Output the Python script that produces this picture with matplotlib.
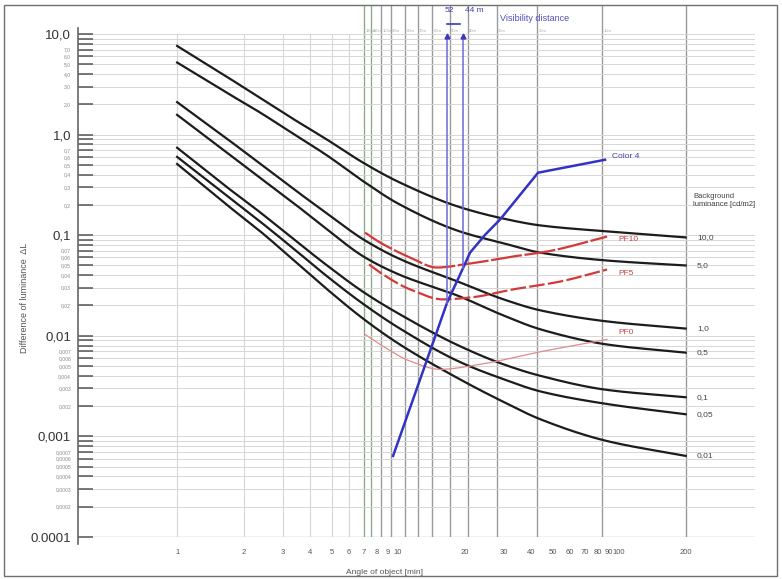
import numpy as np
import matplotlib
matplotlib.use("Agg")
import matplotlib.pyplot as plt
from matplotlib.ticker import FixedLocator, FixedFormatter, NullFormatter
from matplotlib.patches import Rectangle

plt.rcParams['font.family'] = ['Liberation Sans', 'DejaVu Sans']

# ---------------- data ----------------
angles = [1, 1.68, 2.38, 3.35, 4.77, 7.0, 10, 19, 30, 44, 88, 200]
bg_labels = ['10,0', '5,0', '1,0', '0,5', '0,1', '0,05', '0,01']
curve_10 = [7.6, 3.75, 2.3, 1.43, 0.89, 0.52, 0.34, 0.19, 0.146, 0.125, 0.109, 0.095]
curve_5 = [5.2, 2.6, 1.65, 1.02, 0.62, 0.34, 0.206, 0.109, 0.083, 0.067, 0.056, 0.050]
curve_1 = [2.1, 0.91, 0.51, 0.29, 0.164, 0.09, 0.059, 0.034, 0.023, 0.0179, 0.0139, 0.0118]
curve_05 = [1.57, 0.66, 0.37, 0.21, 0.114, 0.061, 0.041, 0.0246, 0.0159, 0.0116, 0.0082, 0.0068]
curve_01 = [0.74, 0.30, 0.168, 0.092, 0.050, 0.027, 0.0167, 0.0079, 0.0052, 0.0040, 0.0029, 0.00245]
curve_005 = [0.60, 0.247, 0.136, 0.074, 0.039, 0.0205, 0.0121, 0.0055, 0.0037, 0.0028, 0.0021, 0.00166]
curve_001 = [0.51, 0.20, 0.109, 0.057, 0.029, 0.0146, 0.0084, 0.0037, 0.0022, 0.00148, 0.0009, 0.00064]

pf10_x = [7.09, 8.29, 11.33, 15.0, 19.7, 33.1, 47.2, 88.2]
pf10_y = [0.106, 0.0845, 0.060, 0.0477, 0.051, 0.0614, 0.0688, 0.0968]
pf5_x = [7.39, 8.29, 11.33, 15.98, 21.17, 33.1, 54.1, 88.2]
pf5_y = [0.0511, 0.0425, 0.0289, 0.023, 0.024, 0.0289, 0.0346, 0.0456]
pf0_x = [7.09, 8.29, 11.33, 15.5, 23.5, 42.6, 88.2]
pf0_y = [0.0103, 0.0082, 0.0056, 0.00464, 0.0052, 0.00684, 0.0092]

color4_x = [9.49, 12.58, 16.66, 19.08, 21.17, 24.8, 28.9, 43.0, 86.4]
color4_y = [0.00064, 0.0037, 0.0214, 0.0407, 0.0672, 0.1014, 0.1428, 0.418, 0.562]

vis_dist = ['120m', '110m', '100m', '90m', '80m', '70m', '60m', '50m', '40m', '30m', '20m', '10m']
vis_angle = [7.02, 7.55, 8.38, 9.29, 10.77, 12.3, 14.3, 17.2, 20.7, 28.0, 42.6, 83.9]
arrow_angle = [16.6, 19.6]
arrow_text = ['52', '44 m']

xtick_vals = [1, 2, 3, 4, 5, 6, 7, 8, 9, 10, 20, 30, 40, 50, 60, 70, 80, 90, 100, 200]
ymajor_vals = [1e-4, 1e-3, 1e-2, 1e-1, 1, 10]
ymajor_lbls = ['0.0001', '0,001', '0,01', '0,1', '1,0', '10,0']
minor_mult = [2, 3, 4, 5, 6, 7, 8, 9]


def pchip(x, y, xn):
    x = np.asarray(x, float); y = np.asarray(y, float)
    h = np.diff(x); d = np.diff(y) / h
    m = np.zeros_like(y)
    m[0] = d[0]; m[-1] = d[-1]
    for k in range(1, len(x) - 1):
        if d[k - 1] * d[k] > 0:
            w1 = 2 * h[k] + h[k - 1]; w2 = h[k] + 2 * h[k - 1]
            m[k] = (w1 + w2) / (w1 / d[k - 1] + w2 / d[k])
    idx = np.clip(np.searchsorted(x, xn) - 1, 0, len(x) - 2)
    t = (xn - x[idx]) / h[idx]
    h00 = 2 * t**3 - 3 * t**2 + 1; h10 = t**3 - 2 * t**2 + t
    h01 = -2 * t**3 + 3 * t**2; h11 = t**3 - t**2
    return h00 * y[idx] + h10 * h[idx] * m[idx] + h01 * y[idx + 1] + h11 * h[idx] * m[idx + 1]


def smooth(xs, ys, n=300):
    lx = np.log10(xs); ly = np.log10(ys)
    xn = np.linspace(lx[0], lx[-1], n)
    return 10**xn, 10**pchip(lx, ly, xn)


W, H = 782, 579
fig = plt.figure(figsize=(W / 100, H / 100), dpi=100)
ax = fig.add_axes([78 / W, 1 - 537 / H, (755 - 78) / W, (537 - 5) / H])
ax.set_xscale('log'); ax.set_yscale('log')
ax.set_xlim(0.356, 412); ax.set_ylim(1e-4, 19.4)

# frame around the figure
fig.patches.append(Rectangle((4 / W, 3 / H), (777 - 4) / W, (574 - 3) / H, transform=fig.transFigure,
                             fill=False, edgecolor='#707070', lw=1.0))

for s in ['top', 'right', 'bottom']:
    ax.spines[s].set_visible(False)
ax.spines['left'].set_color('#666666')
ax.spines['left'].set_linewidth(1.2)
ax.spines['left'].set_bounds(8.5e-5, 11.5)

# horizontal grid
ax.yaxis.set_major_locator(FixedLocator(ymajor_vals))
ax.yaxis.set_major_formatter(FixedFormatter(ymajor_lbls))
ymin_vals, ymin_lbls = [], []
for e in range(-4, 1):
    for m in minor_mult:
        v = m * 10.0**e
        ymin_vals.append(v)
        if m <= 7:
            if e >= 0:
                ymin_lbls.append(f'{m},0')
            else:
                ymin_lbls.append(('0,' + '0' * (-e - 1) + str(m)))
        else:
            ymin_lbls.append('')
ax.yaxis.set_minor_locator(FixedLocator(ymin_vals))
ax.yaxis.set_minor_formatter(FixedFormatter(ymin_lbls))
ax.grid(axis='y', which='both', color='#d6d6d6', lw=0.7, zorder=0)
ax.tick_params(axis='y', which='both', direction='in', length=10.5, width=1.1, color='#555555', pad=5)
ax.tick_params(axis='y', which='major', labelsize=9.5, labelcolor='#333333')
ax.tick_params(axis='y', which='minor', labelsize=3.6, labelcolor='#888888')

# x ticks
ax.xaxis.set_major_locator(FixedLocator(xtick_vals))
ax.xaxis.set_major_formatter(FixedFormatter([str(v) for v in xtick_vals]))
ax.xaxis.set_minor_locator(FixedLocator([]))
ax.xaxis.set_minor_formatter(NullFormatter())
ax.tick_params(axis='x', which='both', length=0, labelsize=5.5, labelcolor='#555555', pad=8.5)

# bottom line at 0.0001
ax.axhline(1e-4, color='#bbbbbb', lw=1.0, zorder=1)

# vertical light grid 1..6
ax.vlines([1, 2, 3, 4, 5, 6], 1e-4, 10, color='#d6d6d6', lw=0.8, zorder=0)
ax.vlines([200], 1e-4, 19.4, color='#999999', lw=1.0, zorder=1)

# visibility distance lines
for i, (a, lab) in enumerate(zip(vis_angle, vis_dist)):
    col = '#8fab8f' if i < 2 else '#9a9a9a'
    ax.vlines(a, 1e-4, 19.4, color=col, lw=1.0, zorder=1)
    ax.text(a * 1.012, 10.8, lab, fontsize=3.0, color='#aaaaaa', ha='left', va='center')

# background luminance curves
curves = [curve_10, curve_5, curve_1, curve_05, curve_01, curve_005, curve_001]
for c, lab in zip(curves, bg_labels):
    sx, sy = smooth(angles, c)
    ax.plot(sx, sy, color='#1c1c1c', lw=1.6, zorder=4)
    ax.text(225, c[-1], lab, fontsize=6, color='#444444', ha='left', va='center')
ax.text(216, 0.22, 'Background\nluminance [cd/m2]', fontsize=5.5, color='#444444',
        ha='left', va='center', linespacing=1.3)

# PF curves
sx, sy = smooth(pf10_x, pf10_y)
ax.plot(sx, sy, color='#d23a3a', lw=1.6, dashes=(14, 1.2), zorder=5)
sx, sy = smooth(pf5_x, pf5_y)
ax.plot(sx, sy, color='#d23a3a', lw=1.6, dashes=(7, 1.5), zorder=5)
sx, sy = smooth(pf0_x, pf0_y)
ax.plot(sx, sy, color='#e28a8a', lw=0.9, zorder=5)
ax.text(99, 0.09, 'PF10', fontsize=6, color='#cc4040', ha='left', va='center')
ax.text(99, 0.0413, 'PF5', fontsize=6, color='#cc4040', ha='left', va='center')
ax.text(99, 0.0108, 'PF0', fontsize=6, color='#cc4040', ha='left', va='center')

# Color 4 line
ax.plot(color4_x, color4_y, color='#3232c4', lw=1.8, zorder=6)
ax.text(93, 0.6, 'Color 4', fontsize=6, color='#4040a8', ha='left', va='center')

# arrows for visibility distance
lcx = np.log10(color4_x); lcy = np.log10(color4_y)
for a in arrow_angle:
    ybot = 10**np.interp(np.log10(a), lcx, lcy)
    ax.vlines(a, ybot, 9.3, color='#6a6ad8', lw=1.1, zorder=6)
    ax.plot([a], [9.6], marker='^', ms=3.5, color='#3a3ab8', zorder=7)
ax.plot([16.6, 19.1], [12.6, 12.6], color='#3a3ab8', lw=1.2, zorder=7)
ax.text(16.3, 17.3, arrow_text[0], fontsize=6, color='#4040a8', ha='left', va='center')
ax.text(20.1, 17.3, arrow_text[1], fontsize=6, color='#4040a8', ha='left', va='center')
ax.text(28.9, 14.4, 'Visibility distance', fontsize=6.5, color='#5050b8', ha='left', va='center')

# axis labels
fig.text(25 / W, 1 - 298 / H, 'Difference of luminance  ΔL', rotation=90, fontsize=6.5,
         color='#555555', ha='center', va='center')
fig.text(385 / W, 1 - 572 / H, 'Angle of object [min]', fontsize=6, color='#555555',
         ha='center', va='center')

fig.savefig('out.png', dpi=100)
